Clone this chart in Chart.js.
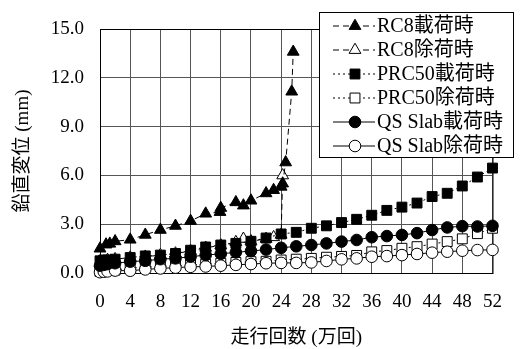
<!DOCTYPE html>
<html lang="ja">
<head>
<meta charset="utf-8">
<script src="https://cdn.jsdelivr.net/npm/chart.js@4.4.1/dist/chart.umd.min.js"></script>
<style>
  html, body { margin: 0; padding: 0; background: #fff; }
</style>
</head>
<body>
<canvas id="chart" width="520" height="349"></canvas>
<script>
// ─── DATA (走行回数 万回 / 鉛直変位 mm) ─────────────────────────
const rc8LoadX   = [0, 0.8, 1.3, 2, 4, 6, 8, 10, 12, 14, 15.9, 16, 18, 19, 20, 22, 23, 24, 24.2, 24.6, 25.4, 25.6];
const rc8LoadY   = [1.5, 1.75, 1.8, 1.95, 2.05, 2.35, 2.65, 2.9, 3.2, 3.65, 3.75, 4.0, 4.35, 4.15, 4.45, 4.9, 5.1, 5.3, 5.5, 6.8, 11.15, 13.6];

const rc8UnloadX = [0, 1, 2, 4, 6, 8, 10, 12, 14, 16, 18, 19, 20, 22, 23, 24, 24.2];
const rc8UnloadY = [0.6, 0.8, 0.85, 0.95, 1.0, 1.1, 1.2, 1.35, 1.55, 1.7, 1.9, 2.1, 1.95, 2.1, 2.2, 2.35, 6.0];

// PRC50 と QS Slab は同じ測定回
const runX = [0, 0.5, 1, 2, 4, 6, 8, 10, 12, 14, 16, 18, 20, 22, 24, 26, 28, 30, 32, 34, 36, 38, 40, 42, 44, 46, 48, 50, 52];

const prcLoadY   = [0.75, 0.8, 0.8, 0.85, 0.95, 1.05, 1.1, 1.2, 1.4, 1.6, 1.72, 1.82, 1.95, 2.15, 2.4, 2.5, 2.75, 2.9, 3.1, 3.3, 3.55, 3.85, 4.05, 4.3, 4.7, 4.9, 5.35, 5.9, 6.45];
const prcUnloadY = [0.1, 0.12, 0.15, 0.18, 0.3, 0.35, 0.4, 0.45, 0.5, 0.55, 0.6, 0.65, 0.7, 0.72, 0.8, 0.85, 0.9, 0.97, 1.02, 1.08, 1.3, 1.38, 1.52, 1.62, 1.78, 1.93, 2.1, 2.42, 2.75];
const qsLoadY    = [0.45, 0.5, 0.55, 0.6, 0.7, 0.75, 0.85, 0.9, 1.0, 1.1, 1.18, 1.27, 1.35, 1.44, 1.55, 1.64, 1.72, 1.82, 1.93, 2.03, 2.2, 2.27, 2.34, 2.45, 2.64, 2.8, 2.88, 2.86, 2.9];
const qsUnloadY  = [0.05, 0.08, 0.1, 0.15, 0.14, 0.22, 0.28, 0.33, 0.38, 0.4, 0.45, 0.5, 0.55, 0.6, 0.62, 0.62, 0.65, 0.74, 0.84, 0.9, 1.0, 1.04, 1.1, 1.17, 1.25, 1.31, 1.37, 1.41, 1.42];

const seriesNames = ['RC8載荷時', 'RC8除荷時', 'PRC50載荷時', 'PRC50除荷時', 'QS Slab載荷時', 'QS Slab除荷時'];

const xTicks = [0, 4, 8, 12, 16, 20, 24, 28, 32, 36, 40, 44, 48, 52];
const yTicks = [0, 3, 6, 9, 12, 15];

const serif = "'Liberation Serif', 'Noto Sans CJK JP', serif";

function pts(xs, ys) {
  return xs.map((x, i) => ({ x: x, y: ys[i] }));
}

// 共通の線・マーカー設定
function series(label, data, shape, filled, dash, order) {
  const r = shape === 'circle' ? 5.8 : (shape === 'rect' ? 7 : 6.8);
  return {
    label: label,
    data: data,
    showLine: true,
    borderColor: '#000',
    borderWidth: 1,
    borderDash: dash,
    pointStyle: shape,
    pointRadius: r,
    pointHoverRadius: r,
    pointBackgroundColor: filled ? '#000' : '#fff',
    pointBorderColor: '#000',
    pointBorderWidth: 1,
    clip: false,
    order: order
  };
}

const datasets = [
  series(seriesNames[0], pts(rc8LoadX, rc8LoadY), 'triangle', true, [6, 4], 0),
  series(seriesNames[1], pts(rc8UnloadX, rc8UnloadY), 'triangle', false, [6, 4], 5),
  series(seriesNames[2], pts(runX, prcLoadY), 'rect', true, [2, 3], 1),
  series(seriesNames[3], pts(runX, prcUnloadY), 'rect', false, [2, 3], 4),
  series(seriesNames[4], pts(runX, qsLoadY), 'circle', true, [], 2),
  series(seriesNames[5], pts(runX, qsUnloadY), 'circle', false, [], 3)
];

// 枠線と凡例ボックス (グラフ領域に重ねて描く)
const framePlugin = {
  id: 'frame',
  beforeDatasetsDraw(chart) {
    const a = chart.chartArea;
    const ctx = chart.ctx;
    ctx.save();
    ctx.strokeStyle = '#000';
    ctx.lineWidth = 1;
    ctx.strokeRect(a.left + 0.5, a.top + 0.5, a.right - a.left, a.bottom - a.top);
    ctx.restore();
  },
  afterDraw(chart) {
    const ctx = chart.ctx;
    const box = { x: 319, y: 12, w: 194, h: 145 };
    ctx.save();
    ctx.fillStyle = '#fff';
    ctx.fillRect(box.x, box.y, box.w, box.h);
    ctx.strokeStyle = '#000';
    ctx.lineWidth = 1;
    ctx.strokeRect(box.x + 0.5, box.y + 0.5, box.w, box.h);

    chart.data.datasets.forEach((ds, i) => {
      const cy = box.y + 14 + i * 24;
      ctx.strokeStyle = '#000';
      ctx.lineWidth = 1;
      ctx.setLineDash(ds.borderDash);
      ctx.beginPath();
      ctx.moveTo(333, cy);
      ctx.lineTo(375, cy);
      ctx.stroke();
      ctx.setLineDash([]);
      ctx.fillStyle = ds.pointBackgroundColor;
      Chart.helpers.drawPoint(ctx, {
        pointStyle: ds.pointStyle,
        radius: ds.pointRadius,
        borderWidth: 1,
        rotation: 0
      }, 355, cy);

      ctx.fillStyle = '#000';
      ctx.font = '20px ' + serif;
      ctx.textBaseline = 'middle';
      ctx.textAlign = 'left';
      ctx.fillText(ds.label, 377, cy + 1);
    });
    ctx.restore();
  }
};

new Chart(document.getElementById('chart'), {
  type: 'scatter',
  data: { datasets: datasets },
  plugins: [framePlugin],
  options: {
    responsive: false,
    animation: false,
    layout: { padding: { top: 29, right: 17, left: 0, bottom: 0 } },
    plugins: {
      legend: { display: false },
      tooltip: { enabled: false }
    },
    scales: {
      x: {
        type: 'linear',
        min: 0,
        max: 52,
        afterBuildTicks: (s) => { s.ticks = xTicks.map(v => ({ value: v })); },
        afterFit: (s) => { s.height = 76; },
        ticks: { color: '#000', font: { family: serif, size: 19 }, padding: 18, maxRotation: 0 },
        grid: { color: '#555', lineWidth: 1, drawTicks: false },
        border: { color: '#000' },
        title: {
          display: true,
          text: '走行回数 (万回)',
          color: '#000',
          font: { family: serif, size: 19 },
          padding: { top: 0, bottom: 0 }
        }
      },
      y: {
        min: 0,
        max: 15,
        afterBuildTicks: (s) => { s.ticks = yTicks.map(v => ({ value: v })); },
        afterFit: (s) => { s.width = 100; },
        ticks: {
          color: '#000',
          font: { family: serif, size: 19 },
          padding: 16,
          callback: (v) => v.toFixed(1)
        },
        grid: { color: '#555', lineWidth: 1, drawTicks: false },
        border: { color: '#000' },
        title: {
          display: true,
          text: '鉛直変位 (mm)',
          color: '#000',
          font: { family: serif, size: 19 },
          padding: { top: 12, bottom: 0 }
        }
      }
    }
  }
});
</script>
</body>
</html>
